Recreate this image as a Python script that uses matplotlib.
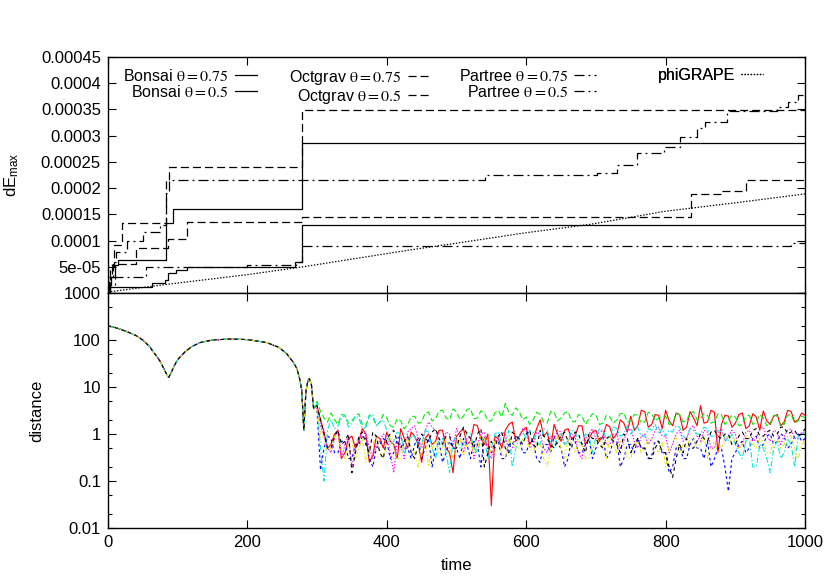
import numpy as np
import matplotlib
matplotlib.use("Agg")
import matplotlib.pyplot as plt
from matplotlib.ticker import FixedLocator, FuncFormatter, LogLocator, NullFormatter

plt.rcParams['font.family'] = ['Liberation Sans', 'DejaVu Sans']
plt.rcParams['mathtext.fontset'] = 'stix'
plt.rcParams['lines.scale_dashes'] = False

# ---- top panel: max energy error (step curves) ----
bonsai75_t = [0, 2, 5, 10, 14, 84, 94, 278, 1000]
bonsai75_v = [0, 1.5e-5, 3.1e-5, 5.3e-5, 6.3e-5, 1.33e-4, 1.6e-4, 2.86e-4, 2.86e-4]

bonsai5_t = [0, 2, 63, 82, 86, 97, 113, 268, 279, 1000]
bonsai5_v = [3e-6, 1.1e-5, 1.85e-5, 2.5e-5, 3.75e-5, 4.4e-5, 4.9e-5, 6e-5, 1.3e-4, 1.3e-4]

octgrav75_t = [0, 3, 9, 20, 84, 87, 278, 1000]
octgrav75_v = [1e-5, 5e-5, 9.2e-5, 1.33e-4, 2.15e-4, 2.4e-4, 3.49e-4, 3.49e-4]

octgrav5_t = [0, 3, 8, 40, 86, 114, 278, 836, 880, 915, 1000]
octgrav5_v = [5e-6, 3e-5, 5.5e-5, 8.5e-5, 1.03e-4, 1.36e-4, 1.44e-4, 1.89e-4, 1.95e-4, 2.16e-4, 2.16e-4]

partree75_t = [0, 2, 6, 12, 28, 50, 75, 84, 87, 541, 701, 730, 759, 798, 820, 845, 857, 888, 960, 975, 990, 1000]
partree75_v = [5e-6, 3e-5, 6e-5, 7.9e-5, 1.0e-4, 1.17e-4, 1.3e-4, 1.9e-4, 2.15e-4, 2.25e-4, 2.28e-4,
               2.44e-4, 2.67e-4, 2.79e-4, 2.98e-4, 3.14e-4, 3.27e-4, 3.48e-4, 3.55e-4, 3.65e-4, 3.78e-4, 3.78e-4]

partree5_t = [0, 3, 10, 55, 200, 270, 278, 980, 1000]
partree5_v = [2e-6, 1.5e-5, 3.1e-5, 5e-5, 5.3e-5, 6e-5, 8.9e-5, 9.6e-5, 9.6e-5]

phigrape_t = [0, 100, 200, 280, 433, 500, 600, 692, 800, 900, 1000]
phigrape_v = [2e-6, 1.9e-5, 3.5e-5, 5e-5, 8.2e-5, 9.5e-5, 1.15e-4, 1.31e-4, 1.56e-4, 1.72e-4, 1.89e-4]

# ---- bottom panel: distance ----
# common approach phase (all codes agree)
approach_t = [0, 10, 20, 30, 40, 50, 60, 65, 70, 75, 80, 84, 87, 90, 95, 100, 110, 120, 132, 150,
              175, 200, 228, 245, 256, 265, 271, 275, 278, 281, 284, 287, 289, 292, 295]
approach_d = [200, 185, 165, 145, 125, 100, 72, 56, 45, 35, 25, 19, 16, 19, 28, 38, 55, 72, 88, 100,
              105, 102, 88, 70, 52, 35, 25, 15, 8.6, 1.2, 8, 14, 15, 11, 3.5]

# after the merger, sampled every 5 time units from 300 to 1000
merged_t = np.arange(300, 1001, 5)

dist_red = [
    4.0, 2.0, 1.1, 0.5, 0.6, 1.0, 1.2, 0.3, 0.4, 0.8,
    0.9, 0.5, 0.7, 1.3, 1.0, 0.25, 0.35, 0.9, 0.8, 0.5,
    1.1, 0.7, 0.6, 0.3, 1.3, 0.8, 0.5, 1.1, 0.9, 0.6,
    0.25, 0.8, 1.0, 0.6, 0.7, 1.2, 1.2, 0.5, 0.4, 0.15,
    0.9, 1.1, 1.3, 0.6, 0.7, 1.6, 1.5, 0.8, 0.6, 1.0,
    0.03, 0.9, 0.8, 0.5, 1.2, 1.6, 1.8, 0.7, 0.9, 1.2,
    1.4, 0.6, 0.8, 1.3, 2.0, 0.9, 1.1, 0.5, 1.6, 1.0,
    0.7, 1.2, 1.3, 0.8, 0.9, 1.5, 1.5, 0.6, 0.8, 1.1,
    1.2, 0.7, 0.9, 1.6, 1.4, 0.8, 1.0, 2.0, 1.7, 1.1,
    2.4, 1.2, 1.5, 3.2, 3.0, 1.4, 1.6, 2.6, 2.5, 1.3,
    3.2, 1.9, 1.5, 2.8, 2.6, 1.2, 1.4, 3.0, 2.2, 1.5,
    4.0, 1.7, 1.8, 3.2, 2.9, 0.4, 1.6, 2.5, 2.4, 1.4,
    1.7, 2.6, 2.8, 1.3, 1.5, 2.7, 2.3, 1.2, 3.1, 1.9,
    1.6, 2.4, 2.6, 1.5, 1.8, 3.2, 3.0, 1.8, 2.0, 2.8,
    2.5]
dist_green = [
    5.0, 3.0, 2.2, 1.8, 2.8, 2.0, 1.6, 2.6, 2.5, 1.7,
    1.9, 2.4, 2.7, 1.6, 1.5, 2.5, 2.3, 1.5, 1.8, 2.6,
    2.2, 1.5, 1.4, 2.1, 1.9, 1.3, 1.6, 2.3, 2.4, 1.7,
    1.8, 2.8, 2.9, 1.9, 2.1, 3.1, 3.2, 2.2, 2.0, 3.4,
    3.0, 2.0, 2.4, 3.3, 3.5, 2.1, 2.2, 3.1, 2.8, 1.9,
    1.9, 2.8, 3.2, 2.3, 4.5, 2.9, 2.5, 3.6, 3.0, 2.0,
    2.3, 1.6, 2.0, 2.9, 2.6, 1.8, 1.7, 3.0, 2.9, 1.9,
    2.2, 2.8, 3.0, 1.9, 1.8, 2.6, 2.4, 1.6, 2.1, 2.7,
    2.6, 1.6, 1.7, 2.5, 2.3, 1.7, 2.0, 2.7, 2.8, 1.8,
    1.9, 2.6, 2.5, 1.7, 1.8, 2.9, 2.7, 1.9, 2.2, 2.4,
    2.4, 1.6, 1.7, 2.7, 2.6, 1.8, 1.9, 2.8, 3.0, 2.0,
    2.1, 2.7, 2.5, 1.7, 1.8, 2.7, 2.6, 1.6, 2.0, 2.5,
    2.3, 1.5, 1.6, 2.4, 2.5, 1.6, 1.8, 2.6, 2.2, 1.5,
    1.7, 2.5, 2.4, 1.5, 1.6, 2.5, 2.6, 1.7, 1.9, 2.4,
    2.2]
dist_blue = [
    3.0, 0.17, 0.5, 0.9, 0.8, 0.4, 0.4, 0.7, 0.7, 0.3,
    0.3, 0.6, 0.6, 0.9, 0.8, 0.3, 0.2, 0.5, 0.6, 0.8,
    0.7, 0.3, 0.4, 0.8, 0.9, 0.5, 0.5, 0.3, 0.6, 0.8,
    0.3, 0.5, 0.8, 0.2, 0.5, 0.7, 0.25, 0.4, 0.7, 0.5,
    0.5, 0.3, 0.8, 0.6, 0.3, 0.7, 0.6, 0.2, 0.9, 0.5,
    0.4, 0.7, 0.7, 0.3, 0.3, 0.6, 0.6, 0.9, 0.8, 0.4,
    0.4, 0.7, 0.7, 0.3, 0.25, 0.6, 0.6, 0.4, 0.9, 0.6,
    0.5, 0.2, 0.3, 0.8, 0.7, 0.4, 0.4, 0.6, 0.8, 0.3,
    0.5, 0.8, 0.9, 0.3, 0.4, 0.7, 0.7, 0.2, 0.3, 0.6,
    0.6, 0.4, 0.8, 0.5, 0.5, 0.3, 0.35, 0.7, 0.7, 0.4,
    0.4, 0.15, 0.2, 0.5, 0.6, 0.3, 0.3, 0.6, 0.8, 0.5,
    0.5, 0.3, 0.7, 0.2, 0.3, 0.5, 0.5, 0.2, 0.06, 0.3,
    0.4, 0.6, 0.7, 0.4, 0.5, 0.8, 0.9, 0.5, 0.6, 0.9,
    1.0, 0.6, 0.7, 1.0, 0.9, 0.5, 0.6, 0.9, 1.0, 0.7,
    0.8]
dist_magenta = [
    3.5, 1.5, 0.9, 0.5, 0.4, 0.8, 1.2, 0.3, 0.6, 0.9,
    0.2, 0.5, 0.8, 1.1, 1.0, 0.5, 0.3, 0.6, 0.7, 1.0,
    0.9, 0.4, 0.15, 0.7, 0.6, 0.3, 1.1, 1.3, 1.5, 0.8,
    0.5, 1.2, 1.8, 1.4, 1.2, 0.6, 0.7, 1.1, 1.0, 0.5,
    1.3, 0.9, 0.4, 0.8, 0.9, 0.3, 0.6, 1.0, 1.1, 0.4,
    0.3, 0.7, 0.8, 1.1, 1.0, 0.4, 0.5, 0.8, 0.9, 1.3,
    1.2, 0.5, 0.6, 1.1, 1.0, 0.5, 0.4, 0.9, 0.8, 1.2,
    1.1, 0.6, 0.7, 1.0, 0.9, 0.4, 0.3, 0.8, 1.0, 1.3,
    0.8, 1.1, 1.2, 0.6, 0.6, 1.0, 1.0, 0.5, 0.7, 1.2,
    1.3, 0.7, 0.5, 0.9, 1.0, 0.6, 0.8, 1.2, 1.4, 0.9,
    0.9, 0.4, 0.6, 1.0, 1.2, 0.7, 0.8, 1.3, 1.5, 0.9,
    0.7, 1.2, 1.1, 0.5, 0.5, 1.0, 1.3, 0.7, 0.9, 1.2,
    1.0, 0.5, 0.6, 1.1, 1.2, 0.7, 0.8, 1.3, 1.4, 0.9,
    0.7, 1.2, 1.1, 0.6, 0.9, 1.2, 1.3, 0.8, 0.8, 1.1,
    1.0]
dist_cyan = [
    4.5, 0.5, 0.1, 1.2, 2.0, 1.3, 1.5, 2.2, 2.5, 1.4,
    1.7, 2.4, 2.2, 1.3, 1.4, 2.5, 2.6, 1.5, 1.8, 2.0,
    1.2, 0.6, 0.7, 1.1, 1.0, 0.4, 0.5, 0.9, 0.9, 0.5,
    0.6, 1.2, 1.1, 0.5, 0.3, 0.8, 0.8, 0.4, 0.15, 0.7,
    0.9, 0.5, 0.6, 1.1, 1.0, 0.5, 0.4, 0.8, 0.8, 0.3,
    0.5, 1.0, 1.1, 0.6, 0.7, 1.2, 0.2, 0.5, 0.9, 1.1,
    0.8, 1.2, 1.1, 0.6, 0.6, 1.3, 1.2, 0.7, 0.5, 0.9,
    1.0, 0.6, 0.7, 1.2, 1.1, 0.7, 0.6, 1.0, 0.9, 0.4,
    0.9, 1.3, 1.2, 0.8, 0.8, 1.4, 1.3, 0.9, 1.0, 1.5,
    1.0, 1.4, 1.4, 0.9, 0.9, 1.3, 1.2, 1.6, 1.0, 1.3,
    0.9, 1.2, 1.1, 1.5, 1.4, 0.9, 0.8, 1.3, 1.2, 1.0,
    1.0, 1.4, 1.3, 0.9, 0.9, 1.2, 1.1, 0.8, 0.7, 1.0,
    0.6, 0.4, 0.3, 0.7, 0.8, 0.2, 0.2, 0.6, 0.5, 0.3,
    0.15, 0.5, 0.7, 0.3, 0.4, 0.8, 0.6, 0.2, 0.9, 1.0,
    1.1]
dist_yellow = [
    3.0, 1.0, 0.8, 0.4, 0.5, 0.9, 0.9, 0.4, 0.3, 0.6,
    0.7, 0.3, 0.5, 0.8, 0.25, 0.5, 0.6, 0.9, 0.4, 0.3,
    0.7, 0.9, 0.5, 0.3, 0.3, 0.6, 0.8, 0.5, 0.4, 0.2,
    0.6, 0.8, 0.2, 0.5, 0.7, 0.4, 0.5, 0.8, 0.5, 0.3,
    0.6, 0.8, 0.35, 0.6, 0.7, 0.4, 0.5, 0.9, 0.8, 0.5,
    0.4, 0.7, 0.6, 0.4, 0.3, 0.8, 0.7, 0.5, 0.5, 0.8,
    0.8, 0.5, 0.4, 0.7, 0.6, 0.3, 0.2, 0.5, 0.7, 0.9,
    0.5, 0.3, 0.8, 0.6, 0.4, 0.7, 0.6, 0.3, 0.3, 0.6,
    0.7, 0.9, 0.5, 0.3, 0.9, 0.6, 0.4, 0.7, 0.6, 0.3,
    0.3, 0.6, 0.7, 0.4, 0.5, 0.8, 0.8, 0.5, 0.4, 0.7,
    0.2, 0.5, 0.6, 0.9, 0.4, 0.6, 0.5, 0.8, 0.8, 0.5,
    0.6, 0.9, 0.3, 0.5, 0.7, 0.4, 0.5, 0.8, 0.9, 0.6,
    0.8, 0.5, 0.6, 0.9, 0.9, 0.6, 0.5, 0.8, 0.7, 0.4,
    0.4, 0.7, 0.8, 0.5, 0.6, 0.9, 0.9, 0.5, 0.3, 0.6,
    0.7]
dist_black = [
    4.0, 2.0, 1.0, 0.5, 0.5, 0.9, 1.2, 0.6, 0.7, 1.0,
    0.15, 0.4, 0.9, 1.1, 0.6, 0.4, 1.1, 0.9, 0.4, 0.3,
    0.8, 1.0, 1.2, 0.7, 0.5, 0.7, 0.9, 0.4, 0.3, 0.6,
    1.0, 0.8, 0.7, 1.1, 1.3, 0.8, 0.6, 0.9, 0.9, 0.5,
    0.5, 0.9, 1.4, 1.0, 0.8, 0.5, 1.0, 1.3, 0.2, 0.4,
    0.7, 0.5, 0.9, 1.1, 0.5, 0.4, 1.1, 0.9, 0.8, 0.6,
    1.0, 1.2, 0.6, 0.5, 1.2, 0.9, 0.8, 0.6, 0.5, 0.7,
    0.9, 1.1, 0.7, 0.5, 1.1, 1.0, 0.6, 0.4, 1.0, 0.8,
    0.8, 0.6, 0.5, 0.8, 0.9, 0.7, 0.6, 0.4, 1.0, 0.8,
    0.4, 0.6, 0.8, 0.5, 0.5, 0.3, 0.3, 0.5, 0.7, 0.4,
    0.4, 0.2, 0.12, 0.3, 0.6, 0.4, 0.8, 0.5, 0.5, 0.7,
    1.0, 0.8, 0.7, 1.1, 1.2, 0.9, 0.8, 1.0, 1.0, 0.6,
    0.6, 0.9, 1.1, 0.8, 0.8, 1.2, 1.3, 0.9, 0.9, 1.1,
    1.2, 0.9, 1.0, 1.4, 1.4, 1.0, 1.1, 1.2, 0.9, 1.0,
    1.3]

FS = 12
solid = '-'
dashed = (0, (5.8, 2.9))
dashdot = (0, (7.2, 2.9, 1.4, 2.9))
dotted = (0, (1.0, 1.2))

fig = plt.figure(figsize=(8.3, 5.81), dpi=100)
ax1 = fig.add_axes([0.130, 0.4957, 0.840, 0.4061])
ax2 = fig.add_axes([0.130, 0.0912, 0.840, 0.4045])

th = lambda v: r'$\mathrm{\theta=' + v + '}$'
top_series = [
    (bonsai75_t, bonsai75_v, solid, 'Bonsai ' + th('0.75')),
    (bonsai5_t, bonsai5_v, solid, 'Bonsai ' + th('0.5')),
    (octgrav75_t, octgrav75_v, dashed, 'Octgrav ' + th('0.75')),
    (octgrav5_t, octgrav5_v, dashed, 'Octgrav ' + th('0.5')),
    (partree75_t, partree75_v, dashdot, 'Partree ' + th('0.75')),
    (partree5_t, partree5_v, dashdot, 'Partree ' + th('0.5')),
]
lines = []
for t, v, ls, lab in top_series:
    ln, = ax1.plot(t, v, color='black', lw=0.9, ls=ls, drawstyle='steps-post', label=lab)
    lines.append(ln)
ln, = ax1.plot(phigrape_t, phigrape_v, color='black', lw=0.9, ls=dotted, label='phiGRAPE')
lines.append(ln)

# gnuplot-like key: fixed-width columns, text before sample
col_x = [0.2138, 0.462, 0.700, 0.940]
groups = [lines[0:2], lines[2:4], lines[4:6], lines[6:7]]
for x, grp in zip(col_x, groups):
    leg = ax1.legend(handles=grp, loc='upper right', bbox_to_anchor=(x, 0.955),
                     frameon=False, markerfirst=False, fontsize=FS - 0.5, handlelength=1.4,
                     handletextpad=0.35, labelspacing=0.0, borderpad=0, borderaxespad=0)
    ax1.add_artist(leg)

ax1.set_xlim(0, 1000)
ax1.set_ylim(0, 0.00045)
ax1.yaxis.set_major_locator(FixedLocator(np.arange(0, 0.00046, 0.00005)))
ax1.yaxis.set_major_formatter(FuncFormatter(lambda y, p: '' if abs(y) < 1e-9 else '%g' % y))
ax1.xaxis.set_major_locator(FixedLocator(range(0, 1001, 200)))
ax1.tick_params(axis='x', labelbottom=False)

colors = ['#ff0000', '#00ee00', '#0000ff', '#ff00ff', '#00e8e8', '#e8e800', '#000000']
styles = [solid, (0, (4, 2)), (0, (2, 2)), (0, (1, 1.2)), (0, (4, 1.5, 1, 1.5)),
          (0, (3, 1.5, 1, 1.5, 1, 1.5)), (0, (2.5, 2.5))]
dists = [dist_red, dist_green, dist_blue, dist_magenta, dist_cyan, dist_yellow, dist_black]
for c, ls, d in zip(colors, styles, dists):
    tt = np.concatenate([approach_t, merged_t])
    dd = np.concatenate([approach_d, d])
    ax2.plot(tt, dd, color=c, ls=ls, lw=0.8)

ax2.set_yscale('log')
ax2.set_xlim(0, 1000)
ax2.set_ylim(0.01, 1000)
ax2.yaxis.set_major_locator(FixedLocator([0.01, 0.1, 1, 10, 100, 1000]))
ax2.yaxis.set_major_formatter(FuncFormatter(lambda y, p: '%g' % y))
ax2.yaxis.set_minor_locator(LogLocator(base=10, subs=[2, 5], numticks=20))
ax2.yaxis.set_minor_formatter(NullFormatter())
ax2.xaxis.set_major_locator(FixedLocator(range(0, 1001, 200)))
ax2.set_xlabel('time', fontsize=FS, labelpad=6)
ax2.set_ylabel('distance', fontsize=FS, labelpad=14)

for ax in (ax1, ax2):
    ax.tick_params(which='major', direction='in', length=5.5, width=0.8, top=True, right=True,
                   labelsize=FS, pad=5)
    ax.tick_params(which='minor', direction='in', length=3, width=0.8, top=True, right=True)
    for s in ax.spines.values():
        s.set_linewidth(1.0)

fig.text(0.014, 0.70, r'dE$_{\mathregular{max}}$', rotation=90, ha='center', va='center', fontsize=FS)

fig.savefig('out.png', dpi=100)
